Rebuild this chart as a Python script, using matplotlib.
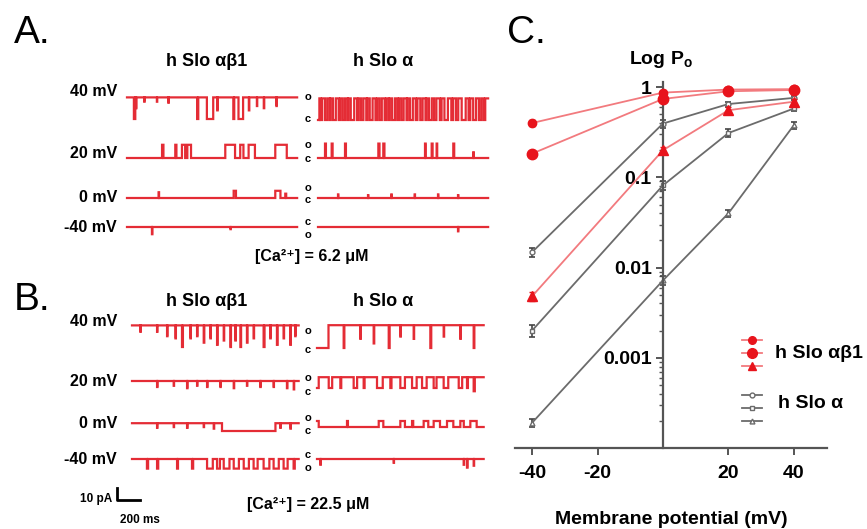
import numpy as np
import matplotlib
matplotlib.use("Agg")
import matplotlib.pyplot as plt
from matplotlib.lines import Line2D
from matplotlib.ticker import LogLocator, NullFormatter

plt.rcParams['font.family'] = ['Liberation Sans', 'DejaVu Sans']
plt.rcParams['mathtext.fontset'] = 'custom'
plt.rcParams['mathtext.rm'] = 'Liberation Sans'
plt.rcParams['mathtext.bf'] = 'Liberation Sans:bold'

# ---- panel C data: open probability vs membrane potential ----
voltage = [-40, 0, 20, 40]
ab1_po = [
    [0.40, 0.87, 0.94, 0.95],
    [0.183, 0.74, 0.90, 0.93],
    [0.0048, 0.20, 0.555, 0.69],
]
ab1_err = [
    [0.03, 0.05, 0.04, 0.03],
    [0.015, 0.05, 0.04, 0.03],
    [0.0005, 0.015, 0.04, 0.04],
]
a_po = [
    [0.0148, 0.395, 0.65, 0.76],
    [0.0020, 0.0815, 0.31, 0.58],
    [0.00019, 0.0072, 0.040, 0.38],
]
a_err = [
    [0.0018, 0.04, 0.04, 0.04],
    [0.0003, 0.009, 0.03, 0.04],
    [0.00002, 0.0008, 0.004, 0.035],
]
x_ticks = [-40, -20, 20, 40]
y_ticks = [1e-3, 1e-2, 1e-1, 1]
y_ticklabels = ['0.001', '0.01', '0.1', '1']

# ---- panels A/B data: single-channel records ----
# each record: (resting state, unitary current pA, events [(start ms, dur ms, fraction)])
A40_ab1 = ('o', 18, [(60, 12, 1), (78, 4, 0.5), (150, 3, 0.2), (260, 3, 0.2), (360, 3, 0.25),
                     (610, 10, 1), (695, 55, 1), (785, 4, 0.6), (925, 8, 1), (970, 40, 1),
                     (1060, 4, 0.6), (1130, 3, 0.4), (1190, 4, 0.5), (1300, 3, 0.4)])
A40_a = ('o', 18, [(0, 12, 1), (20, 15, 1), (60, 20, 1), (100, 10, 1), (130, 25, 1), (180, 15, 1),
                   (215, 20, 1), (255, 10, 1), (285, 30, 1), (340, 15, 1), (375, 20, 1),
                   (420, 10, 1), (450, 25, 1), (500, 15, 1), (535, 20, 1), (580, 15, 1),
                   (615, 10, 1), (645, 25, 1), (690, 15, 1), (725, 20, 1), (770, 10, 1),
                   (800, 25, 1), (850, 15, 1), (890, 20, 1), (935, 10, 1), (965, 25, 1),
                   (1010, 20, 1), (1060, 15, 1), (1100, 30, 1), (1160, 15, 1), (1200, 20, 1),
                   (1250, 35, 1), (1310, 15, 1), (1350, 25, 1), (1400, 20, 1), (1440, 15, 1)])
A20_ab1 = ('c', 11, [(305, 12, 1), (420, 10, 1), (478, 28, 1), (525, 32, 1), (855, 85, 1),
                     (985, 28, 1), (1058, 55, 1), (1290, 100, 1)])
A20_a = ('c', 12, [(61, 8, 1), (119, 8, 1), (235, 8, 1), (525, 10, 1), (568, 10, 1),
                   (931, 6, 1), (989, 8, 1), (1032, 5, 1), (1177, 8, 1), (1351, 4, 0.4)])
A0_ab1 = ('c', 6, [(275, 4, 0.8), (928, 20, 1), (1290, 45, 1), (1377, 8, 0.6)])
A0_a = ('c', 6, [(174, 3, 0.5), (435, 3, 0.4), (638, 3, 0.5), (841, 3, 0.5),
                 (1044, 3, 0.5), (1218, 3, 0.4)])
Am40_ab1 = ('c', -6, [(217, 4, 1), (900, 3, 0.3)])
Am40_a = ('c', -6, [(1218, 3, 0.6)])

B40_ab1 = ('o', 18, [(73, 3, 0.3), (218, 3, 0.3), (305, 4, 0.5), (378, 4, 0.6), (435, 8, 1),
                     (508, 4, 0.6), (566, 4, 0.5), (624, 5, 0.8), (682, 4, 0.6), (740, 5, 0.9),
                     (798, 4, 0.7), (856, 5, 1), (899, 4, 0.7), (943, 6, 1), (1000, 5, 0.8),
                     (1058, 4, 0.6), (1145, 8, 1), (1203, 4, 0.6), (1261, 6, 0.9),
                     (1319, 4, 0.6), (1377, 5, 0.9), (1420, 3, 0.5)])
B40_a = ('o', 19, [(0, 100, 1), (232, 6, 1), (377, 4, 0.6), (493, 5, 0.8), (624, 8, 1),
                   (725, 4, 0.5), (841, 4, 0.6), (986, 8, 1), (1102, 4, 0.5), (1247, 4, 0.6),
                   (1363, 6, 1)])
B20_ab1 = ('o', 10, [(218, 4, 0.5), (363, 3, 0.4), (479, 4, 0.6), (566, 3, 0.4), (653, 4, 0.5),
                     (769, 3, 0.5), (885, 4, 0.6), (1000, 3, 0.4), (1116, 4, 0.5),
                     (1232, 3, 0.5), (1348, 4, 0.6), (1407, 4, 0.7)])
B20_a = ('o', 9, [(0, 15, 1), (102, 30, 1), (203, 8, 1), (319, 30, 1), (406, 8, 1), (522, 50, 1),
                  (638, 10, 1), (725, 40, 1), (827, 40, 1), (914, 40, 1), (1015, 25, 1),
                  (1102, 40, 1), (1233, 30, 1), (1305, 8, 1), (1363, 10, 1.3)])
B0_ab1 = ('o', 6.5, [(218, 3, 0.6), (363, 3, 0.5), (479, 4, 0.6), (624, 3, 0.5), (711, 4, 0.7),
                     (783, 465, 1), (1290, 4, 0.6), (1378, 4, 0.7)])
B0_a = ('c', 5, [(0, 15, 1), (261, 8, 1), (537, 40, 1), (725, 40, 1), (827, 10, 1), (928, 40, 1),
                 (1015, 55, 1), (1131, 55, 1), (1247, 30, 1), (1334, 55, 1)])
Bm40_ab1 = ('c', -8, [(130, 10, 1), (218, 10, 1), (392, 8, 1), (522, 10, 1), (653, 50, 1),
                      (740, 25, 1), (798, 50, 1), (885, 45, 1), (972, 45, 1), (1058, 35, 1),
                      (1145, 50, 1), (1232, 45, 1), (1319, 35, 1), (1406, 10, 1)])
Bm40_a = ('c', -8, [(29, 4, 0.6), (667, 3, 0.4), (1276, 4, 0.6), (1305, 5, 0.9), (1363, 4, 0.7)])

record_ms = {'A': 1480, 'B': 1450}
scale_ms, scale_pA = 200, 10

# ---- layout (pixels of the 867x529 canvas) ----
W, H = 867, 529
MS_PX, PA_PX = 8.7, 0.833

def P(x, y):
    return x / W, 1 - y / H

# record -> (panel, left px, closed-level px)
layout = [
    (A40_ab1, 'A', 127, 119), (A40_a, 'A', 318, 120),
    (A20_ab1, 'A', 127, 158), (A20_a, 'A', 318, 158),
    (A0_ab1, 'A', 127, 198), (A0_a, 'A', 318, 198),
    (Am40_ab1, 'A', 127, 227), (Am40_a, 'A', 318, 227),
    (B40_ab1, 'B', 132, 347), (B40_a, 'B', 317, 348),
    (B20_ab1, 'B', 132, 393), (B20_a, 'B', 317, 388),
    (B0_ab1, 'B', 132, 431), (B0_a, 'B', 317, 427),
    (Bm40_ab1, 'B', 132, 459), (Bm40_a, 'B', 317, 459),
]
row_labels = [('40 mV', 91), ('20 mV', 154), ('0 mV', 197), ('-40 mV', 228),
              ('40 mV', 322), ('20 mV', 381), ('0 mV', 423), ('-40 mV', 460)]
oc_labels = [('o', 97), ('c', 119), ('o', 145), ('c', 159), ('o', 188), ('c', 200),
             ('c', 222), ('o', 235), ('o', 331), ('c', 350), ('o', 378), ('c', 392),
             ('o', 418), ('c', 431), ('c', 455), ('o', 468)]

TRACE = '#e3202a'


def build(record, dur):
    base, amp, events = record
    t = np.arange(0, dur + 1)
    frac = np.zeros(t.size)
    for t0, d, f in events:
        frac[(t >= t0) & (t < t0 + d)] = f
    y = amp * (1 - frac) if base == 'o' else amp * frac
    return t, y


fig = plt.figure(figsize=(W / 100, H / 100), dpi=100)

ax_t = fig.add_axes([0, 0, 1, 1])
ax_t.set_xlim(0, W * MS_PX)
ax_t.set_ylim(-H * PA_PX, 0)
ax_t.axis('off')

for record, panel, x0, yc in layout:
    t, y = build(record, record_ms[panel])
    ax_t.plot(x0 * MS_PX + t, -yc * PA_PX + y, color=TRACE, lw=1.6, alpha=0.95,
              drawstyle='steps-post', solid_joinstyle='miter')

# scale bar
sx, sy = 117 * MS_PX, -500 * PA_PX
ax_t.plot([sx, sx, sx + scale_ms], [sy + scale_pA, sy, sy], color='black', lw=2)
fig.text(*P(112, 499), '10 pA', ha='right', va='center', fontsize=8.5, fontweight='bold')
fig.text(*P(140, 520), '200 ms', ha='center', va='center', fontsize=8.5, fontweight='bold')

for lab, y in row_labels:
    fig.text(*P(117, y), lab, ha='right', va='center', fontsize=11.5, fontweight='bold')
for lab, y in oc_labels:
    fig.text(*P(308, y), lab, ha='center', va='center', fontsize=8, fontweight='bold')

for y in (62, 301):
    fig.text(*P(207, y), 'h Slo αβ1', ha='center', va='center', fontsize=13, fontweight='bold')
    fig.text(*P(383, y), 'h Slo α', ha='center', va='center', fontsize=13, fontweight='bold')

fig.text(*P(312, 256), '[Ca²⁺] = 6.2 μM', ha='center', va='center',
         fontsize=11.5, fontweight='bold')
fig.text(*P(308, 504), '[Ca²⁺] = 22.5 μM', ha='center', va='center',
         fontsize=11.5, fontweight='bold')

fig.text(*P(14, 43), 'A.', fontsize=28, va='baseline')
fig.text(*P(14, 310), 'B.', fontsize=28, va='baseline')
fig.text(*P(507, 43), 'C.', fontsize=28, va='baseline')

# ---- panel C ----
ax = fig.add_axes([515 / W, 81 / H, 312 / W, 366 / H])
ax.patch.set_visible(False)
ax.set_yscale('log')

RED_LINE, RED = '#f27a7e', '#e8141c'
GREY = '#6b6b6b'
red_markers = [('o', 6), ('o', 7.5), ('^', 6.5)]
grey_markers = ['o', 's', '^']

for po, err, m in zip(a_po, a_err, grey_markers):
    ax.errorbar(voltage, po, yerr=err, color=GREY, lw=1.3, marker=m, ms=3.5,
                mfc='white', mec=GREY, ecolor='#444444', elinewidth=1.2, capsize=2.5,
                capthick=1.2, zorder=2)
for po, err, (m, size) in zip(ab1_po, ab1_err, red_markers):
    ax.errorbar(voltage, po, yerr=err, color=RED_LINE, lw=1.3, marker=m, ms=size,
                mfc=RED, mec=RED, ecolor=RED, elinewidth=1.2, capsize=2.5, zorder=3)

ax.set_xlim(-45.2, 50.1)
ax.set_ylim(1e-4, 1.14)
for s in ('top', 'right'):
    ax.spines[s].set_visible(False)
ax.spines['left'].set_position(('data', 0))
for s in ('left', 'bottom'):
    ax.spines[s].set_color('#555555')
    ax.spines[s].set_linewidth(1.6)

ax.set_xticks(x_ticks)
ax.set_xticklabels([str(v) for v in x_ticks], fontsize=14, fontweight='bold')
ax.set_yticks(y_ticks)
ax.set_yticklabels(y_ticklabels, fontsize=14, fontweight='bold')
ax.yaxis.set_minor_locator(LogLocator(base=10, subs=np.arange(2, 10)))
ax.yaxis.set_minor_formatter(NullFormatter())
ax.tick_params(axis='both', which='major', direction='out', length=5, width=1.4,
               color='#555555', pad=3)
ax.tick_params(axis='x', pad=7)
ax.tick_params(axis='y', which='minor', direction='out', length=3, width=1.0, color='#555555')
ax.set_xlabel('Membrane potential (mV)', fontsize=14, fontweight='bold', labelpad=21)

fig.text(*P(661, 60), r'Log P$_\mathbf{o}$', ha='center', va='center', fontsize=14,
         fontweight='bold')

red_handles = [Line2D([], [], color=RED_LINE, lw=1.3, marker=m, ms=size - 0.5, mfc=RED, mec=RED)
               for m, size in red_markers]
grey_handles = [Line2D([], [], color=GREY, lw=1.3, marker=m, ms=3.5, mfc='white', mec=GREY)
                for m in grey_markers]
for handles, yc in ((red_handles, 354), (grey_handles, 409)):
    fig.legend(handles, ['', '', ''], loc='center', bbox_to_anchor=P(752, yc),
               frameon=False, fontsize=8, handlelength=1.8, handletextpad=0,
               labelspacing=0.28, borderpad=0, borderaxespad=0)
fig.text(*P(775, 353), 'h Slo αβ1', ha='left', va='center', fontsize=14, fontweight='bold')
fig.text(*P(778, 404), 'h Slo α', ha='left', va='center', fontsize=14, fontweight='bold')

fig.savefig('out.png', dpi=100)
